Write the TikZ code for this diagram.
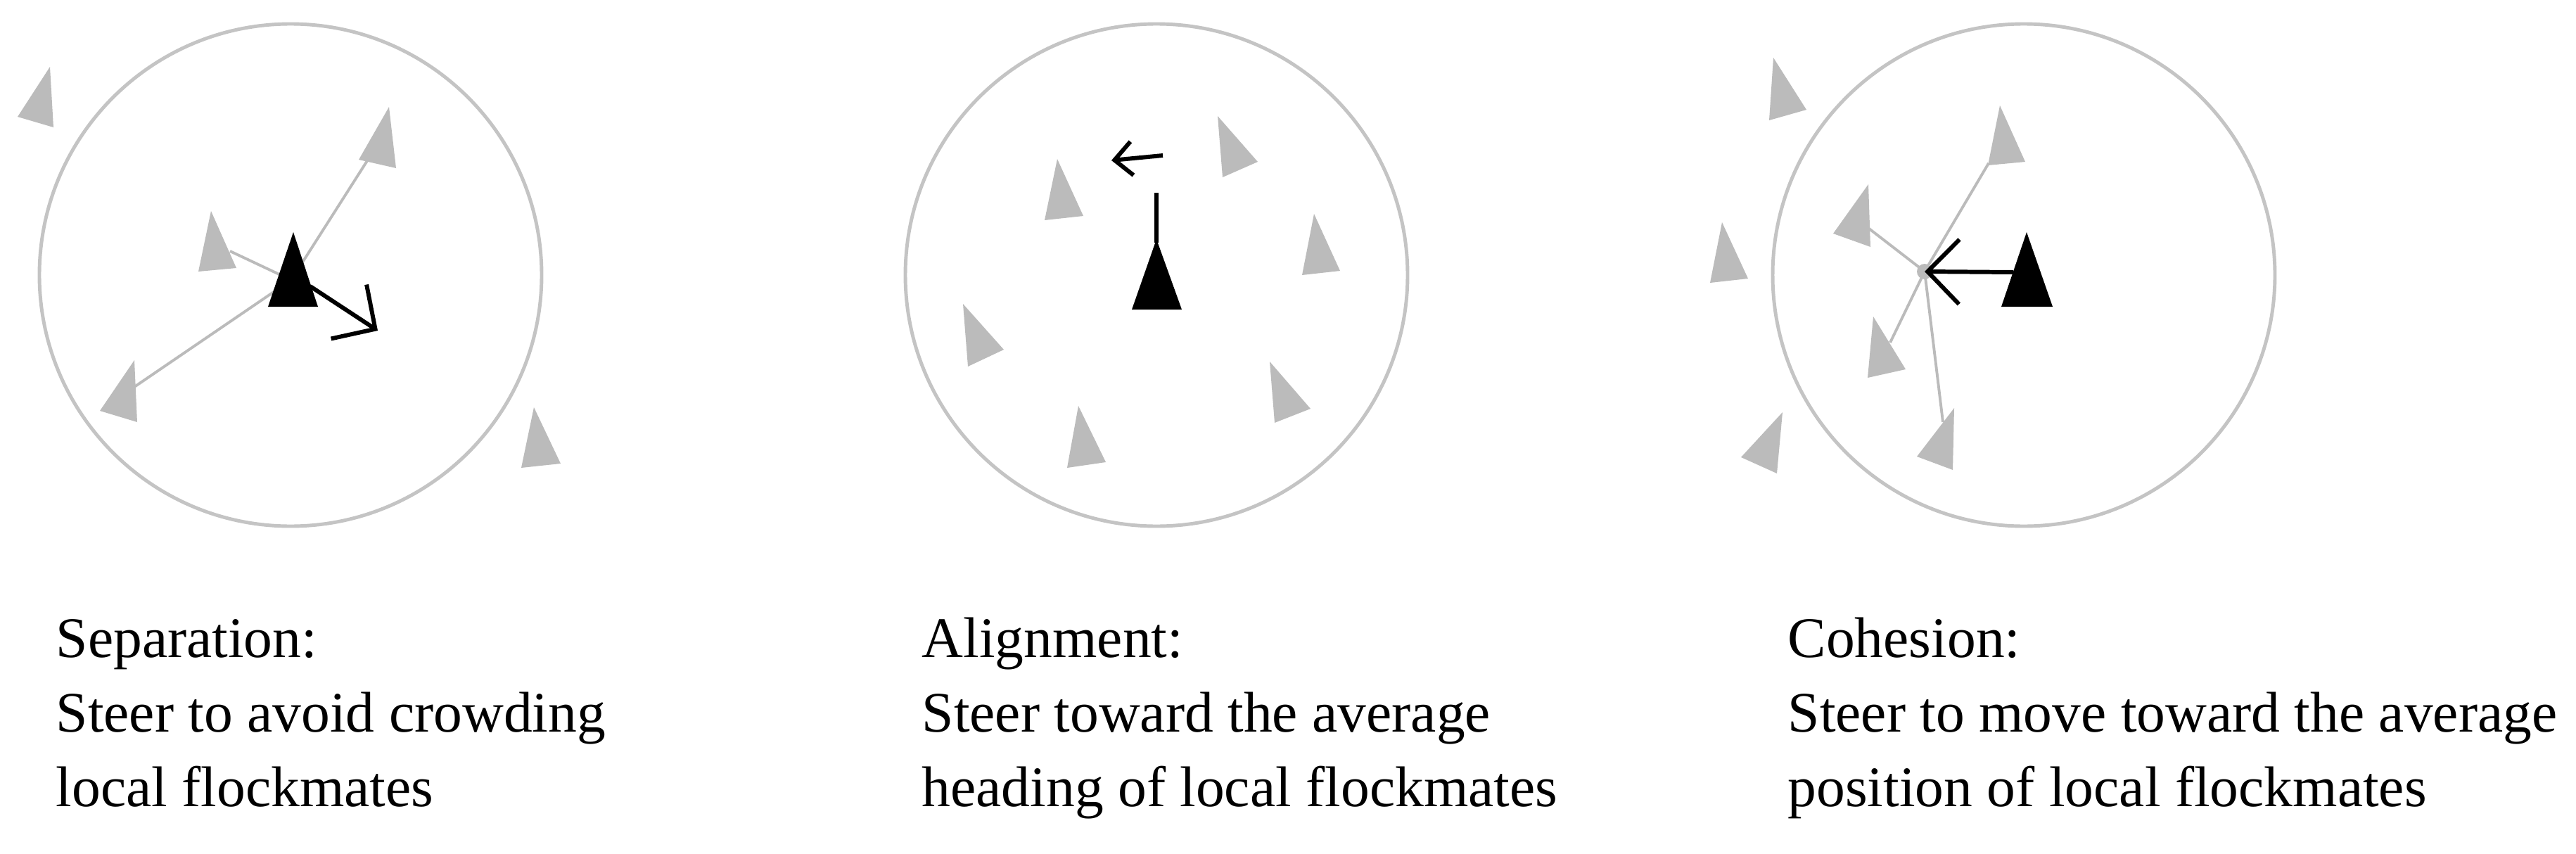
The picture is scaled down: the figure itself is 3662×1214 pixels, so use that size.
\documentclass[tikz,border=0pt]{standalone}
\usepackage{fontspec}
\setmainfont{Liberation Serif}
\usetikzlibrary{arrows.meta}
\definecolor{boidgray}{HTML}{BBBBBB}
\definecolor{ringgray}{HTML}{C4C4C4}
\begin{document}
\begin{tikzpicture}[x=0.1mm,y=-0.1mm,
  ring/.style={draw=ringgray,line width=1.4pt,circle,minimum size=71.4mm,inner sep=0pt},
  mate/.style={fill=boidgray},
  me/.style={fill=black},
  link/.style={draw=boidgray,line width=1.1pt},
  steerbig/.style={draw=black,line width=1.7pt,-{Straight Barb[length=4.5mm,width=9.2mm]}},
  steersmall/.style={draw=black,line width=1.7pt,-{Straight Barb[length=2.5mm,width=4.8mm]}},
  lbl/.style={anchor=base west,inner sep=0pt,font=\fontsize{23.2}{30}\selectfont}]
\fill[white] (0,0) rectangle (3662,1214);
\useasboundingbox (0,0) rectangle (3662,1214);

% ---------------- Separation ----------------
\node[ring] (zone1) at (413,391) {};
\coordinate (s-c) at (414,398);
\coordinate (s-ur) at (523,227);
\coordinate (s-ml) at (327,357);
\coordinate (s-ll) at (191,550);
\draw[link] (s-c) -- (s-ur);
\draw[link] (s-c) -- (s-ml);
\draw[link] (s-c) -- (s-ll);
\fill[mate] (71,95) -- (25,166) -- (76,181) -- cycle;
\fill[mate] (553,152) -- (510,227) -- (563,239) -- cycle;
\fill[mate] (300,300) -- (282,386) -- (336,381) -- cycle;
\fill[mate] (191,512) -- (142,584) -- (195,600) -- cycle;
\fill[mate] (759,579) -- (741,665) -- (797,659) -- cycle;
\fill[me] (417,330) -- (381,436) -- (452,436) -- cycle;
\coordinate (s-from) at (441,407);
\coordinate (s-to) at (537,470);
\draw[steerbig] (s-from) -- (s-to);

% ---------------- Alignment ----------------
\node[ring] (zone2) at (1644,391) {};
\fill[mate] (1503,226) -- (1485,313) -- (1540,307) -- cycle;
\fill[mate] (1731,165) -- (1738,252) -- (1788,230) -- cycle;
\fill[mate] (1868,304) -- (1851,391) -- (1905,385) -- cycle;
\fill[mate] (1369,432) -- (1376,521) -- (1427,497) -- cycle;
\fill[mate] (1805,514) -- (1812,601) -- (1863,581) -- cycle;
\fill[mate] (1533,577) -- (1517,665) -- (1572,657) -- cycle;
\coordinate (a-apex) at (1644,345);
\coordinate (a-head) at (1644,274);
\fill[me] (1644,340) -- (1609,440) -- (1680,440) -- cycle;
\draw[black,line width=1.5pt] (a-apex) -- (a-head);
\coordinate (a-from) at (1653,221);
\coordinate (a-to) at (1580,228);
\draw[steersmall] (a-from) -- (a-to);

% ---------------- Cohesion ----------------
\node[ring] (zone3) at (2877,391) {};
\coordinate (c-dot) at (2736,386);
\coordinate (c-u) at (2827,232);
\coordinate (c-l) at (2657,325);
\coordinate (c-ll) at (2687,487);
\coordinate (c-lo) at (2762,600);
\draw[link] (c-dot) -- (c-u);
\draw[link] (c-dot) -- (c-l);
\draw[link] (c-dot) -- (c-ll);
\draw[link] (c-dot) -- (c-lo);
\fill[mate] (2521,82) -- (2515,171) -- (2568,156) -- cycle;
\fill[mate] (2843,150) -- (2826,235) -- (2879,230) -- cycle;
\fill[mate] (2656,262) -- (2606,332) -- (2659,351) -- cycle;
\fill[mate] (2448,316) -- (2431,402) -- (2485,396) -- cycle;
\fill[mate] (2663,450) -- (2655,537) -- (2709,525) -- cycle;
\fill[mate] (2534,586) -- (2475,650) -- (2526,673) -- cycle;
\fill[mate] (2778,580) -- (2725,649) -- (2776,668) -- cycle;
\fill[boidgray] (c-dot) circle[radius=1.1mm];
\fill[me] (2881,330) -- (2845,436) -- (2918,436) -- cycle;
\coordinate (c-from) at (2862,387);
\draw[steerbig] (c-from) -- (c-dot);

% ---------------- Labels ----------------
\node[lbl] (t11) at (79,934) {Separation:};
\node[lbl] (t12) at (79,1040) {Steer to avoid crowding};
\node[lbl] (t13) at (79,1146) {local flockmates};
\node[lbl] (t21) at (1310,934) {Alignment:};
\node[lbl] (t22) at (1310,1040) {Steer toward the average};
\node[lbl] (t23) at (1310,1146) {heading of local flockmates};
\node[lbl] (t31) at (2541,934) {Cohesion:};
\node[lbl] (t32) at (2541,1040) {Steer to move toward the average};
\node[lbl] (t33) at (2541,1146) {position of local flockmates};
\end{tikzpicture}
\end{document}
